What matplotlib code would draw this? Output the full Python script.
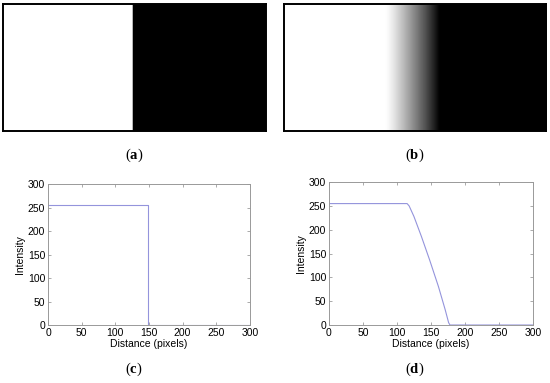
import matplotlib
matplotlib.use("Agg")
import matplotlib.pyplot as plt
import numpy as np

# intensity profiles (distance in pixels, intensity 0-255)
dist_c = [0, 148, 148, 300]
int_c = [255, 255, 0, 0]

dist_d = [0, 115, 118, 125, 136, 148, 161, 171, 176, 178, 300]
int_d = [255, 255, 250, 228, 186, 137, 81, 32, 5, 0, 0]

x_ticks = [0, 50, 100, 150, 200, 250, 300]
y_ticks = [0, 50, 100, 150, 200, 250, 300]
panel_labels = ["a", "b", "c", "d"]

plt.rcParams['font.family'] = ['Liberation Sans', 'DejaVu Sans']
plt.rcParams['mathtext.fontset'] = 'custom'
plt.rcParams['mathtext.rm'] = 'Liberation Serif'
plt.rcParams['mathtext.bf'] = 'Liberation Serif:bold'

fig = plt.figure(figsize=(5.5, 3.83), dpi=100)


def make_image(ax, dist, inten):
    cols = np.interp(np.arange(300), dist, inten)
    img = np.tile(cols, (150, 1))
    ax.imshow(img, cmap='gray', vmin=0, vmax=255, aspect='auto',
              interpolation='bilinear')
    ax.set_xticks([])
    ax.set_yticks([])
    for s in ax.spines.values():
        s.set_color('black')
        s.set_linewidth(1.4)


def make_plot(ax, dist, inten):
    ax.plot(dist, inten, color='#9494dc', linewidth=0.8)
    ax.set_xlim(0, 300)
    ax.set_ylim(0, 300)
    ax.set_xticks(x_ticks)
    ax.set_yticks(y_ticks)
    ax.tick_params(direction='in', length=2, width=0.5, labelsize=7.5,
                   top=True, right=True, color='#888888', pad=2)
    for s in ax.spines.values():
        s.set_color('#999999')
        s.set_linewidth(0.7)
    ax.set_xlabel('Distance (pixels)', fontsize=7.5, labelpad=1)
    ax.set_ylabel('Intensity', fontsize=7.5, labelpad=2)


ax_a = fig.add_axes([0.0055, 0.658, 0.478, 0.3316])
make_image(ax_a, dist_c, int_c)
ax_b = fig.add_axes([0.516, 0.658, 0.4764, 0.3316])
make_image(ax_b, dist_d, int_d)

ax_c = fig.add_axes([0.0873, 0.1514, 0.367, 0.368])
make_plot(ax_c, dist_c, int_c)
ax_d = fig.add_axes([0.598, 0.1514, 0.371, 0.373])
make_plot(ax_d, dist_d, int_d)

label_pos = [(134, 155), (415, 155), (134, 369), (415, 369)]
for lab, (px, py) in zip(panel_labels, label_pos):
    fig.text(px / 550, 1 - py / 383, '(' + r'$\mathbf{' + lab + '}$' + ')',
             family='Liberation Serif', fontsize=10.5, ha='center', va='center')

fig.savefig('out.png', dpi=100)
